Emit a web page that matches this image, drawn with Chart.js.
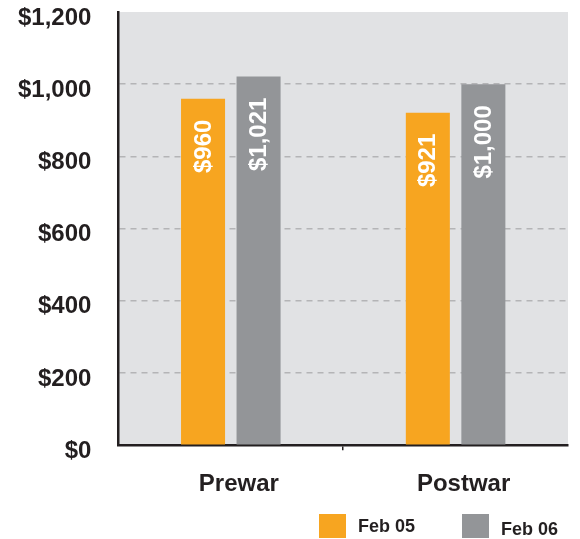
<!DOCTYPE html>
<html lang="en">
<head>
    <meta charset="UTF-8">
    <title>Prewar vs Postwar</title>
    <style>
        body {
            margin: 0;
            background: white;
            font-family: "Liberation Sans", Arial, sans-serif;
        }
        .wrap {
            position: relative;
            width: 580px;
            height: 539px;
        }
        #legend {
            position: absolute;
            left: 319px;
            top: 514px;
            display: flex;
            align-items: flex-start;
            white-space: nowrap;
        }
        .legend-item {
            display: flex;
            align-items: center;
            margin-right: 47px;
            font-size: 18px;
            font-weight: bold;
            color: #231f20;
        }
        .legend-item:last-child span {
            position: relative;
            top: 3px;
        }
        .legend-box {
            width: 27px;
            height: 24px;
            margin-right: 12px;
        }
    </style>
</head>
<body>
    <div class="wrap">
        <canvas id="chart" width="580" height="539"></canvas>
        <div id="legend"></div>
    </div>

    <script src="https://cdn.jsdelivr.net/npm/chart.js"></script>
    <script>
        const categories = ['Prewar', 'Postwar'];
        const seriesNames = ['Feb 05', 'Feb 06'];
        const feb05 = [960, 921];
        const feb06 = [1021, 1000];
        const colors = ['#f7a520', '#939598'];

        const money = v => '$' + Number(v).toLocaleString('en-US');
        const boldFont = { family: '"Liberation Sans", Arial, sans-serif', size: 24, weight: 'bold' };

        // gray plot background
        const plotBg = {
            id: 'plotBg',
            beforeDraw(chart) {
                const a = chart.chartArea;
                const c = chart.ctx;
                c.save();
                c.fillStyle = '#e1e2e4';
                c.fillRect(a.left, a.top, a.right - a.left, a.bottom - a.top);
                c.restore();
            }
        };

        // rotated value labels inside the top of each bar
        const barLabels = {
            id: 'barLabels',
            afterDatasetsDraw(chart) {
                const c = chart.ctx;
                chart.data.datasets.forEach((ds, i) => {
                    chart.getDatasetMeta(i).data.forEach((bar, j) => {
                        c.save();
                        c.translate(bar.x, bar.y + 21);
                        c.rotate(-Math.PI / 2);
                        c.font = 'bold 24px "Liberation Sans", Arial, sans-serif';
                        c.fillStyle = 'white';
                        c.textAlign = 'right';
                        c.textBaseline = 'middle';
                        c.fillText(money(ds.data[j]), 0, 1);
                        c.restore();
                    });
                });
            }
        };

        new Chart(document.getElementById('chart'), {
            type: 'bar',
            data: {
                labels: categories,
                datasets: [
                    { label: seriesNames[0], data: feb05, backgroundColor: colors[0] },
                    { label: seriesNames[1], data: feb06, backgroundColor: colors[1] }
                ]
            },
            options: {
                responsive: false,
                animation: false,
                events: [],
                categoryPercentage: 0.494,
                barPercentage: 0.793,
                layout: { padding: { left: 18, right: 12, top: 0, bottom: 20 } },
                plugins: {
                    legend: { display: false },
                    tooltip: { enabled: false }
                },
                scales: {
                    x: {
                        border: { color: '#231f20', width: 2.5 },
                        grid: {
                            drawOnChartArea: false,
                            tickLength: 5,
                            lineWidth: 1.5,
                            color: ctx => ctx.index === 1 ? '#231f20' : 'rgba(0,0,0,0)'
                        },
                        ticks: {
                            color: '#231f20',
                            padding: 20,
                            labelOffset: 8,
                            font: boldFont
                        }
                    },
                    y: {
                        min: 0,
                        max: 1200,
                        border: { color: '#231f20', width: 2.5, dash: [6, 5] },
                        grid: {
                            drawTicks: true,
                            tickLength: 27,
                            tickColor: 'rgba(0,0,0,0)',
                            lineWidth: 1.5,
                            color: ctx => (ctx.tick && ctx.tick.value > 0 && ctx.tick.value < 1200) ? '#b4b4b6' : 'rgba(0,0,0,0)'
                        },
                        ticks: {
                            stepSize: 200,
                            color: '#231f20',
                            padding: 0,
                            labelOffset: 6,
                            font: Object.assign({}, boldFont, { lineHeight: 1 }),
                            callback: v => money(v)
                        }
                    }
                }
            },
            plugins: [plotBg, barLabels]
        });

        const legend = document.getElementById('legend');
        seriesNames.forEach((name, i) => {
            const item = document.createElement('div');
            item.className = 'legend-item';
            item.innerHTML = `<div class="legend-box" style="background:${colors[i]}"></div><span>${name}</span>`;
            legend.appendChild(item);
        });
    </script>
</body>
</html>
